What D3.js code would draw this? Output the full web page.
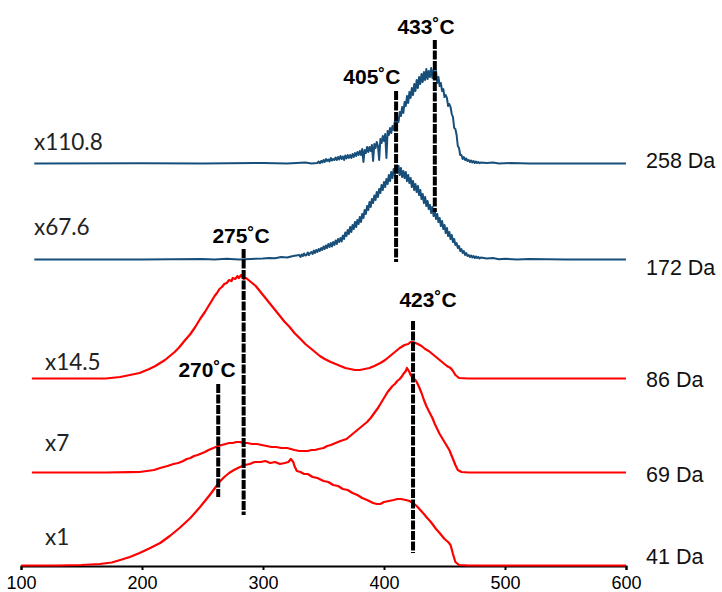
<!DOCTYPE html>
<html>
<head>
<meta charset="utf-8">
<script src="https://cdn.jsdelivr.net/npm/d3@7"></script>
<style>
  body { margin: 0; background: #fff; }
  svg { display: block; }
</style>
</head>
<body>
<svg id="chart" width="722" height="592"></svg>
<script>
// ---- data -------------------------------------------------------------
// x axis ticks (temperature axis)
const xTicks = [100, 200, 300, 400, 500, 600];

// ion traces, bottom to top
const massLabels = ["41 Da", "69 Da", "86 Da", "172 Da", "258 Da"];
const scaleFactors = ["x1", "x7", "x14.5", "x67.6", "x110.8"];
// vertical stacking offset of each trace (intensity units)
const traceOffsets = [0, 93, 187, 306, 402];

// [x, scaled intensity] pairs
const trace41 = [
  [100,0.5],[130,0.5],[150,1],[165,2],[175,3.5],[182,6],[190,9],[198,13],[206,17.5],
  [215,23],[223,30],[231,38],[240,48],[248,59],[256,71],[264,84],[268,89],[272,93],
  [276,96],[281,99],[285,101],[289,102],[293,104],[298,104],[302,105],[306,103],
  [310,104],[314,102],[318,103],[321,104],[323,107],[325,104],[326,100],[328,95],
  [331,94],[334,92],[337,92],[341,89],[345,88],[350,85],[354,84],[358,81],[362,80],
  [366,77],[370,76],[374,73],[378,71],[382,68],[386,66],[391,63],[394,62],[397,62],
  [400,64],[404,65],[408,66],[411,67],[414,67],[418,66],[421,65],[424,63],[427,60],
  [430,56],[433,52],[435,49],[438,45],[440,42],[443,37],[446,33],[450,27],[453,24],
  [455,21],[457,12],[459,4],[462,1],[470,0.5],[600,0.5]
];

const trace69 = [
  [109,0.5],[170,0.5],[190,0.8],[198,1],[204,2],[210,3],[215,5],[221,7],[226,9],
  [230,10],[234,12],[237,14],[240,15],[243,17],[246,18],[248,19],[252,21],[255,23],
  [259,25],[263,27],[266,28],[269,29],[272,30],[275,30],[278,31],[281,31],[284,30],
  [287,30],[291,29],[295,29],[299,28],[303,27],[307,26],[311,26],[315,25],[320,25],
  [323,24],[326,23],[330,22],[333,22],[337,22],[340,23],[343,23],[346,24],[350,25],
  [353,27],[356,28],[360,30],[364,32],[369,34],[372,37],[374,39],[377,42],[380,45],
  [383,48],[386,51],[389,55],[392,60],[395,65],[397,69],[399,73],[401,77],[403,81],
  [405,84],[407,87],[409,89],[411,92],[413,94],[415,97],[416,99],[418,102],[419,105],
  [420,103],[421,101],[422,98],[424,95],[426,93],[427,91],[429,86],[431,80],[433,73],
  [435,67],[437,62],[440,55],[442,49],[444,44],[446,39],[448,35],[450,31],[452,27],
  [454,23],[455,20],[457,14],[459,8],[461,3],[464,1],[470,0.5],[600,0.5]
];

const trace86 = [
  [109,0.5],[170,0.5],[182,2],[190,4],[198,6],[206,10],[211,13],[215,16],[219,19],
  [223,23],[227,27],[231,32],[235,38],[240,45],[244,52],[248,60],[252,67],[256,75],
  [258,79],[260,83],[262,86],[264,90],[266,92],[268,95],[270,96],[272,99],[274,98],
  [275,101],[277,100],[279,103],[280,101],[282,104],[284,100],[286,101],[289,98],
  [291,96],[294,93],[296,90],[298,87],[302,81],[306,75],[310,69],[314,63],[318,57],
  [322,52],[326,46],[331,40],[335,35],[339,31],[343,27],[347,23],[351,20],[356,17],
  [360,15],[364,13],[368,11],[372,10],[376,9],[380,9],[384,10],[388,11],[392,13],
  [397,16],[401,19],[405,23],[409,27],[413,31],[417,34],[420,35],[422,37],[424,37],
  [426,36],[428,35],[431,33],[434,30],[437,28],[440,25],[444,21],[447,18],[450,15],
  [452,13],[455,11],[457,8],[459,4],[462,1],[470,0.5],[600,0.5]
];

// 172 Da: sparse flanks plus a unit-step noisy section
const trace172Lead = [
  [111,0.5],[200,0.5],[250,1],[260,0.5],[270,1.2],[280,0.5],[290,1],[300,1.5],
  [305,2],[310,1.8],[315,3],[320,2.5],[325,4]
];
const trace172Start = 330;
const trace172Values = [
  5,3,5.5,4,6.5,4.5,5,7.5,5,7,
  8,6,9.5,7,10,8,11,
  9,12,10,13.5,11,14.5,12,16,13,
  17,13.5,18,15,19.5,16,21,18,
  22,18.5,24.5,21,27.5,24,30,26,
  33,28,35,31,38,33,40,36,
  43,38,46,42,50,46,54,50,
  58,53,61,57,64.5,60,68,63,71,
  67,75,70,78,73,81,76,85,
  79,88,82,91,85,93,
  87,94,85,92,83,89,82,
  88,79,85,77,82,73,79,70,76,
  68,74,65,70,61,66,57,63,54,59,51,
  55,47,53,44,49,41,46,38,42,34,39,31,
  35,27,32,24,28,21,25,18,21,15,
  17,12,14,9,11,7,9,5,7,4,
  5,3,4.5,2.5,4,2,3.5,2,3,1.5,2.5
];
const trace172Tail = [
  [485,1.5],[490,2],[495,0.8],[500,1.2],[510,0.6],[520,1],[550,0.5],[600,0.5]
];

// 258 Da: sparse flanks plus a unit-step noisy section
const trace258Lead = [
  [111,0.5],[200,0.8],[250,0.5],[300,1],[320,0.5],[335,1.5],[340,0.5]
];
const trace258Start = 345;
const trace258Values = [
  1,2.5,0.8,3,1.5,
  4,2,5,3,4.5,2.5,6,3.5,5,4,
  6.5,4,7,4.5,8,5,7.5,4,8.5,5.5,9,6,
  9,6,10,7,11,8,12,9,
  13,9,15,2,14,11,17,12,
  17,13,19,3,20,16,
  22,18,4,25,21,
  28,23,30,6,33,29,
  36,31,38,34,43,39,
  47,42,52,48,
  57,51,62,58,
  68,61,72,66,
  76,69,80,73,
  84,76,87,80,
  90,82,92,84,
  95,85,93,87,
  96,86,94,
  88,93,81,
  87,78,81,73,
  75,67,69,
  66,58,60,
  57,50,
  47,36,35,
  29,18,16,9,
  9,5,7,4,5.5,3,
  4,2,3.5,1.5,3,1,2.5,1,2,0.8,1.5
];
const trace258Tail = [
  [485,1],[490,1.5],[495,0.5],[505,1],[520,0.5],[600,0.5]
];

// peak temperature markers
const peakLabels = ["433˚C", "405˚C", "275˚C", "423˚C", "270˚C"];
const markerX = [442, 410, 284, 424, 263];
const markerRange = [[354, 526], [304, 475], [51, 317], [13, 245], [69, 182]];

// ---- assemble traces --------------------------------------------------
const dense = (start, vals) => vals.map((v, i) => [start + i, v]);
const trace172 = trace172Lead.concat(dense(trace172Start, trace172Values), trace172Tail);
const trace258 = trace258Lead.concat(dense(trace258Start, trace258Values), trace258Tail);
const traces = [trace41, trace69, trace86, trace172, trace258];

// ---- layout -----------------------------------------------------------
const svg = d3.select("#chart");
const x = d3.scaleLinear().domain([100, 600]).range([21, 626]);
const y = d3.scaleLinear().domain([0, 550]).range([566, 16]);

const traceStyle = [
  { color: "#ff0000", width: 2.2 },
  { color: "#ff0000", width: 2.2 },
  { color: "#ff0000", width: 2.2 },
  { color: "#174f7a", width: 2 },
  { color: "#174f7a", width: 2 }
];

// peak-label anchors: [x in axis units, baseline in intensity units]
const peakLabelPos = [[434.7, 532], [390, 482], [281.8, 323], [436.4, 259], [253.7, 189]];
// left scale-factor labels: [px x, px baseline]
const factorPos = [[45, 545], [45, 451], [45, 370], [34, 235], [34, 150]];
// right mass labels baseline
const massY = [564, 482, 387, 275, 168];

const sans = "'Liberation Sans', Arial, sans-serif";

// x axis
const axis = svg.append("g")
  .attr("transform", `translate(0,${y(0)})`)
  .call(d3.axisBottom(x).tickValues(xTicks).tickSize(4).tickPadding(6)
        .tickFormat(d3.format("d")));
axis.select(".domain").attr("stroke", "#000").attr("stroke-width", 2);
axis.selectAll(".tick line").attr("stroke", "#000").attr("stroke-width", 2);
axis.selectAll(".tick text")
  .attr("fill", "#000")
  .style("font-family", sans)
  .style("font-size", "18px");

// traces
const line = d3.line().curve(d3.curveLinear);
traces.forEach((tr, i) => {
  const off = traceOffsets[i];
  svg.append("path")
    .attr("d", line(tr.map(d => [x(d[0]), y(off + d[1])])))
    .attr("fill", "none")
    .attr("stroke", traceStyle[i].color)
    .attr("stroke-width", traceStyle[i].width)
    .attr("stroke-linejoin", "round");
});

// dashed peak markers
markerX.forEach((mx, i) => {
  svg.append("line")
    .attr("x1", x(mx)).attr("x2", x(mx))
    .attr("y1", y(markerRange[i][1])).attr("y2", y(markerRange[i][0]))
    .attr("stroke", "#000")
    .attr("stroke-width", 4)
    .attr("stroke-dasharray", "9,1.5");
});

// peak labels
peakLabels.forEach((t, i) => {
  svg.append("text")
    .attr("x", x(peakLabelPos[i][0]))
    .attr("y", y(peakLabelPos[i][1]))
    .attr("text-anchor", "middle")
    .style("font-family", sans)
    .style("font-size", "21px")
    .style("font-weight", "bold")
    .text(t);
});

// scale factor labels (left)
scaleFactors.forEach((t, i) => {
  svg.append("text")
    .attr("x", factorPos[i][0])
    .attr("y", factorPos[i][1])
    .style("font-family", "Lato, 'Open Sans', sans-serif")
    .style("font-size", "22.5px")
    .attr("fill", "#222")
    .text(t);
});

// mass labels (right)
massLabels.forEach((t, i) => {
  svg.append("text")
    .attr("x", 646)
    .attr("y", massY[i])
    .style("font-family", sans)
    .style("font-size", "21.5px")
    .attr("fill", "#111")
    .text(t);
});
</script>
</body>
</html>
